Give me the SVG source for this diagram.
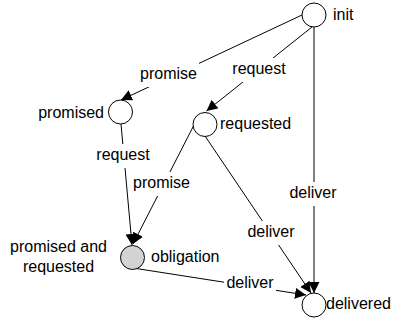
<svg xmlns="http://www.w3.org/2000/svg" width="395" height="323" viewBox="0 0 395 323">
<style>
text{font-family:"Liberation Sans",Arial,sans-serif;font-size:16px;fill:#000}
.edge{stroke:#000;stroke-width:1;fill:none;marker-end:url(#arr)}
.st{fill:#fff;stroke:#000;stroke-width:1}
.lbg{fill:#fff;stroke:none}
.lbl{text-anchor:middle}
</style>
<defs>
<marker id="arr" markerUnits="userSpaceOnUse" markerWidth="12" markerHeight="12" refX="11" refY="5.5" orient="auto">
<path d="M0,0 L11,5.5 L0,11 z" fill="#000"/>
</marker>
</defs>
<rect width="395" height="323" fill="#fff"/>
<g id="connectors">
<line class="edge" x1="302" y1="15" x2="121" y2="100"/>
<line class="edge" x1="312" y1="27" x2="206.5" y2="111"/>
<line class="edge" x1="314" y1="27" x2="314" y2="293"/>
<line class="edge" x1="121" y1="124" x2="132" y2="245"/>
<line class="edge" x1="194" y1="125" x2="133" y2="244"/>
<line class="edge" x1="205" y1="136" x2="311" y2="293"/>
<line class="edge" x1="133" y1="268" x2="306" y2="295"/>
<rect class="lbg" x="138" y="63" width="61" height="24"/>
<text class="lbl" x="168.5" y="79">promise</text>
<rect class="lbg" x="230" y="58" width="58" height="24"/>
<text class="lbl" x="259" y="74">request</text>
<rect class="lbg" x="287" y="182" width="52" height="24"/>
<text class="lbl" x="313" y="198">deliver</text>
<rect class="lbg" x="94" y="144" width="58" height="24"/>
<text class="lbl" x="123" y="160">request</text>
<rect class="lbg" x="131" y="172" width="61" height="24"/>
<text class="lbl" x="161.5" y="188">promise</text>
<rect class="lbg" x="245" y="221" width="52" height="24"/>
<text class="lbl" x="271" y="237">deliver</text>
<rect class="lbg" x="224" y="272" width="52" height="24"/>
<text class="lbl" x="250" y="288">deliver</text>
</g>
<g id="init">
<circle class="st" cx="314" cy="15" r="12"/>
<text x="333" y="20">init</text>
</g>
<g id="promised">
<circle class="st" cx="120.5" cy="112" r="12"/>
<text x="104" y="118" text-anchor="end">promised</text>
</g>
<g id="requested">
<circle class="st" cx="205" cy="124.5" r="12"/>
<text x="220" y="129">requested</text>
</g>
<g id="obligation">
<circle cx="132.5" cy="257.5" r="12" fill="#d3d3d3" stroke="#000" stroke-width="1"/>
<text x="151" y="262">obligation</text>
<text x="58.5" y="252" text-anchor="middle">promised and</text>
<text x="58.5" y="272" text-anchor="middle">requested</text>
</g>
<g id="delivered">
<circle class="st" cx="314" cy="305" r="12"/>
<text x="326" y="309">delivered</text>
</g>
</svg>
